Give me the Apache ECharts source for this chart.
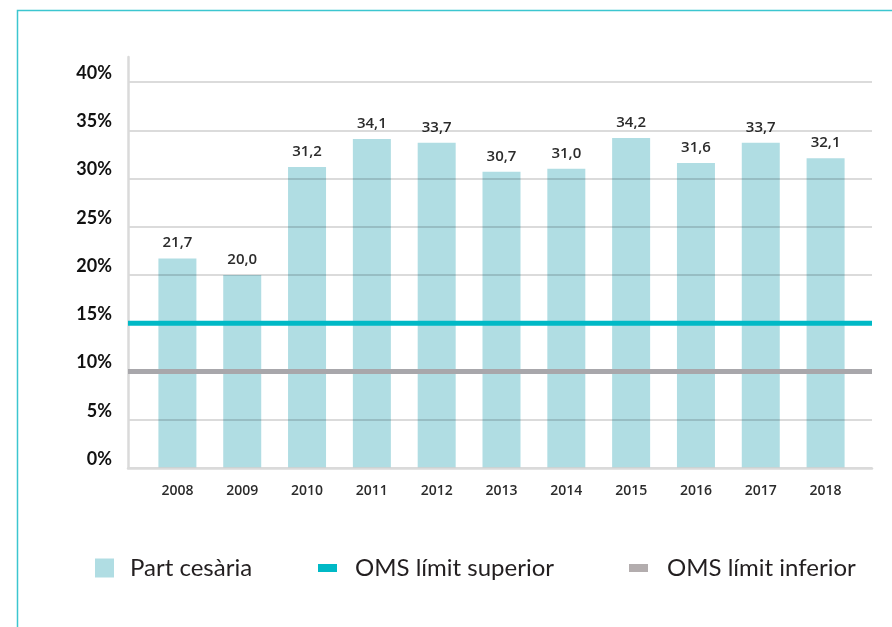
<!DOCTYPE html>
<html>
<head>
<meta charset="utf-8">
<script src="https://cdn.jsdelivr.net/npm/echarts@6/dist/echarts.min.js"></script>
<style>
  html, body { margin: 0; padding: 0; background: #fff; }
  #chart { width: 892px; height: 627px; }
</style>
</head>
<body>
<div id="chart"></div>
<script>
// dades
const years = ['2008', '2009', '2010', '2011', '2012', '2013', '2014', '2015', '2016', '2017', '2018'];
const partCesaria = [21.7, 20.0, 31.2, 34.1, 33.7, 30.7, 31.0, 34.2, 31.6, 33.7, 32.1];
const omsSuperior = 15;
const omsInferior = 10;
const yTicks = { min: 0, max: 40, interval: 5 };

const barColor = '#b0dde3';
const supColor = '#00b9c6';
const infColor = '#a8a7ab';
const gridGray = '#dadada';

const fmt = v => v.toFixed(1).replace('.', ',');

const chart = echarts.init(document.getElementById('chart'));

const legendText = { fontSize: 24, color: '#231f20', fontFamily: 'Lato' };

chart.setOption({
    animation: false,
    backgroundColor: '#fff',
    graphic: [{
        type: 'rect',
        left: 15, top: 8,
        shape: { width: 900, height: 650 },
        style: { fill: 'none', stroke: '#3cc6d0', lineWidth: 1.5 },
        silent: true
    }],
    grid: [
        // eixos, línies de referència
        { left: 128, right: 20, top: 82, bottom: 159 },
        // barres
        { left: 145, right: 34, top: 82, bottom: 159 },
        // prolongació de l'eix vertical
        { left: 128, right: 20, top: 57, bottom: 159 }
    ],
    xAxis: [
        {
            gridIndex: 0, type: 'value', min: 0, max: 1, z: 3,
            axisLine: { show: true, lineStyle: { color: gridGray, width: 2.5 } },
            axisTick: { show: false }, axisLabel: { show: false }, splitLine: { show: false }
        },
        {
            gridIndex: 1, type: 'category', data: years,
            axisLine: { show: false }, axisTick: { show: false },
            axisLabel: {
                margin: 16, color: '#2b2b2b', fontSize: 14, fontWeight: 600,
                fontFamily: 'Open Sans'
            }
        },
        {
            gridIndex: 2, type: 'value', show: false
        }
    ],
    yAxis: [
        {
            gridIndex: 0, type: 'value', min: yTicks.min, max: yTicks.max, interval: yTicks.interval, z: 3,
            axisLine: { show: false }, axisTick: { show: false },
            axisLabel: {
                formatter: '{value}%', margin: 16, color: '#111', fontSize: 18, fontWeight: 'bold',
                fontFamily: 'Lato', verticalAlign: 'bottom', lineHeight: 18
            },
            splitLine: { lineStyle: { color: 'rgba(0,0,0,0.14)', width: 2 } }
        },
        {
            gridIndex: 1, type: 'value', min: yTicks.min, max: yTicks.max, show: false
        },
        {
            gridIndex: 2, type: 'value', z: 3,
            axisLine: { show: true, lineStyle: { color: gridGray, width: 2.5 } },
            axisTick: { show: false }, axisLabel: { show: false }, splitLine: { show: false }
        }
    ],
    legend: [
        {
            data: [{ name: 'Part cesària', icon: 'rect' }],
            left: 90, top: 551, itemWidth: 19, itemHeight: 19,
            textStyle: Object.assign({ padding: [0, 0, 0, 11] }, legendText)
        },
        {
            data: [{ name: 'OMS límit superior', icon: 'rect' }],
            left: 313, top: 551, itemWidth: 19, itemHeight: 8,
            textStyle: Object.assign({ padding: [0, 0, 0, 13] }, legendText)
        },
        {
            data: [{ name: 'OMS límit inferior', icon: 'rect' }],
            left: 624, top: 551, itemWidth: 19, itemHeight: 8,
            textStyle: Object.assign({ padding: [0, 0, 0, 14] }, legendText)
        }
    ],
    series: [
        {
            name: 'Part cesària', type: 'bar', xAxisIndex: 1, yAxisIndex: 1, z: 2,
            data: partCesaria, barWidth: 38,
            itemStyle: { color: barColor },
            label: {
                show: true, position: 'top', distance: 8,
                formatter: p => fmt(p.value),
                fontSize: 15, fontWeight: 600, color: '#2b2b2b', fontFamily: 'Open Sans'
            }
        },
        {
            name: 'OMS límit superior', type: 'line', xAxisIndex: 0, yAxisIndex: 0, z: 4,
            data: [[0, omsSuperior], [1, omsSuperior]], symbol: 'none',
            lineStyle: { color: supColor, width: 5 }, itemStyle: { color: supColor }
        },
        {
            name: 'OMS límit inferior', type: 'line', xAxisIndex: 0, yAxisIndex: 0, z: 4,
            data: [[0, omsInferior], [1, omsInferior]], symbol: 'none',
            lineStyle: { color: infColor, width: 5 }, itemStyle: { color: '#b3adae' }
        }
    ]
});

window.addEventListener('resize', () => chart.resize());
</script>
</body>
</html>
